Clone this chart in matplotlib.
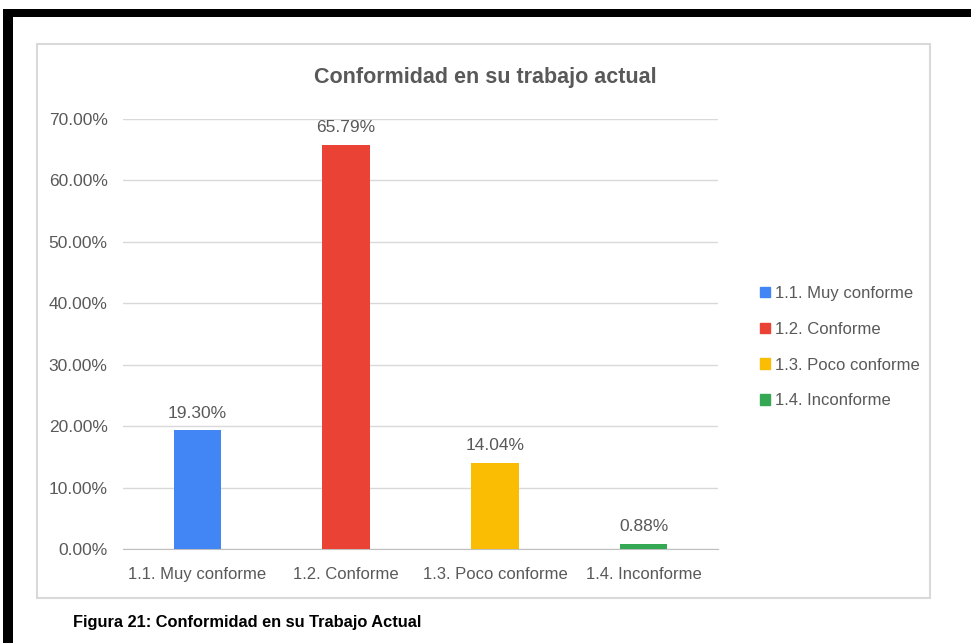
import matplotlib
matplotlib.use("Agg")
import matplotlib.pyplot as plt
from matplotlib.patches import Rectangle
from matplotlib.ticker import FuncFormatter

categories = ["1.1. Muy conforme", "1.2. Conforme", "1.3. Poco conforme", "1.4. Inconforme"]
values = [0.1930, 0.6579, 0.1404, 0.0088]
colors = ["#4285F4", "#EA4335", "#FBBC04", "#34A853"]
yticks = [0.0, 0.1, 0.2, 0.3, 0.4, 0.5, 0.6, 0.7]

TXT = "#595959"
GRID = "#d9d9d9"
plt.rcParams["font.family"] = ["Liberation Sans Narrow", "Liberation Sans", "DejaVu Sans"]

W, H = 971, 643
fig = plt.figure(figsize=(W / 100, H / 100), dpi=100, facecolor="white")

# black frame pieces of the page scan
fig.patches.append(Rectangle((3 / W, 1 - 17 / H), 968 / W, 8 / H, transform=fig.transFigure,
                             facecolor="black", edgecolor="none"))
fig.patches.append(Rectangle((3 / W, 0), 10 / W, 1 - 9 / H, transform=fig.transFigure,
                             facecolor="black", edgecolor="none"))
# chart panel border
fig.patches.append(Rectangle((37 / W, 1 - 598 / H), 893 / W, 554 / H, transform=fig.transFigure,
                             facecolor="none", edgecolor="#d9d9d9", linewidth=1.5))

ax = fig.add_axes([123 / W, 1 - 549 / H, 595 / W, 430 / H])
x = range(len(categories))
bars = ax.bar(x, values, width=0.32, color=colors, zorder=3, label=categories)
for rect, v in zip(bars, values):
    ax.annotate(f"{v * 100:.2f}%", xy=(rect.get_x() + rect.get_width() / 2, v),
                xytext=(0, 7), textcoords="offset points", ha="center", va="bottom",
                color=TXT, fontsize=12.5)

ax.set_xlim(-0.5, len(categories) - 0.5)
ax.set_ylim(0, 0.70)
ax.set_yticks(yticks)
ax.yaxis.set_major_formatter(FuncFormatter(lambda v, _: f"{v * 100:.2f}%"))
ax.set_xticks(list(x))
ax.set_xticklabels(categories)
ax.tick_params(axis="both", length=0, colors=TXT)
ax.tick_params(axis="y", pad=11, labelsize=12.5)
ax.tick_params(axis="x", pad=13, labelsize=12)
ax.grid(axis="y", color=GRID, linewidth=1, zorder=0)
for s in ["top", "right", "left"]:
    ax.spines[s].set_visible(False)
ax.spines["bottom"].set_color("#bfbfbf")

fig.text(485 / W, 1 - 78 / H, "Conformidad en su trabajo actual", ha="center", va="center",
         color=TXT, fontsize=15.5, fontweight="bold")

handles = [Rectangle((0, 0), 1, 1, color=c) for c in colors]
leg = fig.legend(handles, categories, loc="upper left", bbox_to_anchor=(745 / W, 1 - 271 / H),
                 frameon=False, fontsize=12, handlelength=0.6, handleheight=0.6,
                 handletextpad=0.3, labelspacing=1.25, labelcolor=TXT)

fig.text(73 / W, 1 - 623 / H, "Figura 21: Conformidad en su Trabajo Actual", ha="left", va="center",
         color="black", fontsize=11.8, fontweight="bold")

fig.savefig("out.png", dpi=100, facecolor="white")
